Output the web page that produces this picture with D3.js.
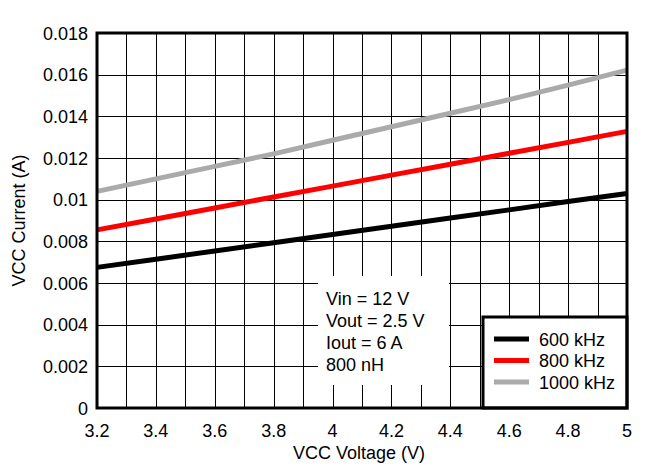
<!DOCTYPE html>
<html><head><meta charset="utf-8">
<script src="https://cdn.jsdelivr.net/npm/d3@7"></script>
<style>body{margin:0;background:#fff}svg{display:block}text{font-family:"Liberation Sans",Arial,sans-serif;fill:#000}</style>
</head><body><svg id="c" width="651" height="475"></svg>
<script>
const voltage = [3.2,3.4,3.6,3.8,4.0,4.2,4.4,4.6,4.8,5.0];
const i600  = [0.00675,0.00714,0.00754,0.00793,0.00833,0.00872,0.00912,0.00951,0.00991,0.0103];
const i800  = [0.00855,0.00907,0.0096,0.01013,0.01065,0.01118,0.0117,0.01223,0.01275,0.01328];
const i1000 = [0.0104,0.0110,0.0116,0.0122,0.01285,0.0135,0.01415,0.0148,0.0155,0.01622];
const seriesNames = ["600 kHz","800 kHz","1000 kHz"];
const seriesColors = ["#000000","#ff0000","#aaaaaa"];
const xTicks = [3.2,3.4,3.6,3.8,4.0,4.2,4.4,4.6,4.8,5.0];
const xTickLabels = ["3.2","3.4","3.6","3.8","4","4.2","4.4","4.6","4.8","5"];
const xGrid = d3.range(3.2,5.0001,0.1);
const yTicks = [0,0.002,0.004,0.006,0.008,0.01,0.012,0.014,0.016,0.018];
const yTickLabels = ["0","0.002","0.004","0.006","0.008","0.01","0.012","0.014","0.016","0.018"];
const annotation = ["Vin = 12 V","Vout = 2.5 V","Iout = 6 A","800 nH"];
const xTitle = "VCC Voltage (V)", yTitle = "VCC Current (A)";

const svg = d3.select("#c");
const L=97,R=627,T=33,B=408;
const x = d3.scaleLinear().domain([3.2,5]).range([L,R]);
const y = d3.scaleLinear().domain([0,0.018]).range([B,T]);

// grid
const g = svg.append("g");
g.selectAll(".vx").data(xGrid).enter().append("line")
  .attr("x1",d=>Math.round(x(d))+0.5).attr("x2",d=>Math.round(x(d))+0.5)
  .attr("y1",T).attr("y2",B).attr("stroke","#000").attr("stroke-width",1);
g.selectAll(".hy").data(yTicks).enter().append("line")
  .attr("y1",d=>Math.round(y(d))+0.5).attr("y2",d=>Math.round(y(d))+0.5)
  .attr("x1",L).attr("x2",R).attr("stroke","#000").attr("stroke-width",1);

// data lines
const sets=[i600,i800,i1000];
const line = d3.line().x((d,i)=>x(voltage[i])).y(d=>y(d));
sets.forEach((s,k)=>{
  svg.append("path").attr("d",line(s)).attr("fill","none")
    .attr("stroke",seriesColors[k]).attr("stroke-width",5);
});

// annotation box
svg.append("rect").attr("x",318).attr("y",276).attr("width",131).attr("height",109).attr("fill","#fff");
annotation.forEach((t,i)=>{
  svg.append("text").attr("x",326).attr("y",305+i*22).attr("font-size",18).text(t);
});

// legend
svg.append("rect").attr("x",483).attr("y",317).attr("width",144).attr("height",91)
  .attr("fill","#fff").attr("stroke","#000").attr("stroke-width",3);
seriesNames.forEach((n,i)=>{
  const yy=339+i*21.5;
  svg.append("line").attr("x1",494).attr("x2",529).attr("y1",yy).attr("y2",yy)
    .attr("stroke",seriesColors[i]).attr("stroke-width",5);
  svg.append("text").attr("x",539).attr("y",yy+6.5).attr("font-size",18).text(n);
});
// frame
svg.append("rect").attr("x",L).attr("y",T).attr("width",R-L).attr("height",B-T)
  .attr("fill","none").attr("stroke","#000").attr("stroke-width",3);

// tick labels
svg.selectAll(".xl").data(xTicks).enter().append("text")
  .attr("x",d=>x(d)).attr("y",437).attr("text-anchor","middle").attr("font-size",18)
  .text((d,i)=>xTickLabels[i]);
svg.selectAll(".yl").data(yTicks).enter().append("text")
  .attr("x",88).attr("y",d=>y(d)+6.5).attr("text-anchor","end").attr("font-size",18)
  .text((d,i)=>yTickLabels[i]);

svg.append("text").attr("x",(L+R)/2-3).attr("y",459).attr("text-anchor","middle").attr("font-size",18).text(xTitle);
svg.append("text").attr("transform",`translate(25,${(T+B)/2}) rotate(-90)`).attr("text-anchor","middle").attr("font-size",18).text(yTitle);
</script></body></html>
